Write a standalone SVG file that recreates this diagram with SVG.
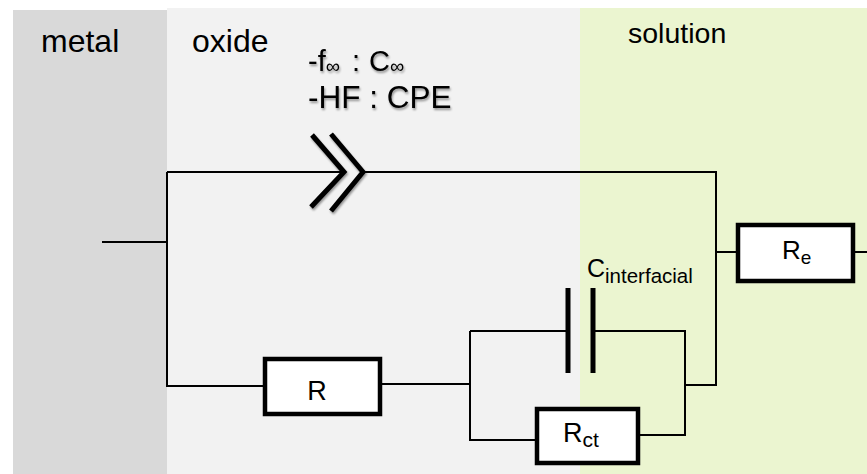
<svg xmlns="http://www.w3.org/2000/svg" width="867" height="474" viewBox="0 0 867 474">
<defs>
<style>
.txt{font-family:"Liberation Sans",Arial,sans-serif;fill:#000}
.wire{stroke:#000;stroke-width:2;fill:none}
.box{fill:#fff;stroke:#000;stroke-width:4.5}
.plate{stroke:#000;stroke-width:5;fill:none}
.chev{stroke:#000;stroke-width:5;fill:none;stroke-linecap:butt}
</style>
<filter id="sh" x="-20%" y="-20%" width="140%" height="140%">
<feGaussianBlur in="SourceAlpha" stdDeviation="1.2"/>
<feOffset dx="1" dy="2" result="b"/>
<feComponentTransfer><feFuncA type="linear" slope="0.4"/></feComponentTransfer>
<feMerge><feMergeNode/><feMergeNode in="SourceGraphic"/></feMerge>
</filter>
</defs>
<rect width="867" height="474" fill="#fff"/>
<g id="regions">
<rect x="13" y="10" width="154" height="464" fill="#d9d9d9"/>
<rect x="167" y="8" width="413" height="466" fill="#f2f2f2"/>
<rect x="580" y="8" width="287" height="466" fill="#ebf5d0"/>
<text class="txt" x="41" y="52" font-size="32">metal</text>
<text class="txt" x="192" y="52" font-size="32">oxide</text>
<text class="txt" x="628" y="43" font-size="28.5">solution</text>
</g>
<g id="connectors">
<path class="wire" d="M102 242H167M167 172V386H263M167 172H345M362 172H716V385H685M716 252H736M855 252H867"/>
<path class="wire" d="M382 384H470M470 331V440H535M470 331H568M593 331H685V435H640"/>
</g>
<g id="cpe" filter="url(#sh)">
<polyline class="chev" points="312,135 344,172 311,207"/>
<polyline class="chev" points="331,134 363,172 331,211"/>
<text class="txt" x="308" y="71" font-size="29">-f<tspan font-size="20" dy="2">∞</tspan><tspan x="352" dy="-2">:</tspan><tspan x="369">C</tspan><tspan font-size="20" dy="2">∞</tspan></text>
<text class="txt" x="308" y="108" font-size="31.5">-HF : CPE</text>
</g>
<g id="R">
<rect class="box" x="265" y="359" width="115" height="55"/>
<text class="txt" x="317" y="400" font-size="27" text-anchor="middle">R</text>
</g>
<g id="Cinterfacial">
<line class="plate" x1="568" y1="288" x2="568" y2="373"/>
<line class="plate" x1="593" y1="288" x2="593" y2="373"/>
<text class="txt" x="587" y="277" font-size="25">C<tspan font-size="20.5" dy="6">interfacial</tspan></text>
</g>
<g id="Rct">
<rect class="box" x="537" y="409" width="101" height="54"/>
<text class="txt" x="563" y="442" font-size="27">R<tspan font-size="21" dy="5">ct</tspan></text>
</g>
<g id="Re">
<rect class="box" x="738" y="225" width="115" height="56"/>
<text class="txt" x="782" y="259" font-size="26">R<tspan font-size="19" dy="5">e</tspan></text>
</g>
</svg>
